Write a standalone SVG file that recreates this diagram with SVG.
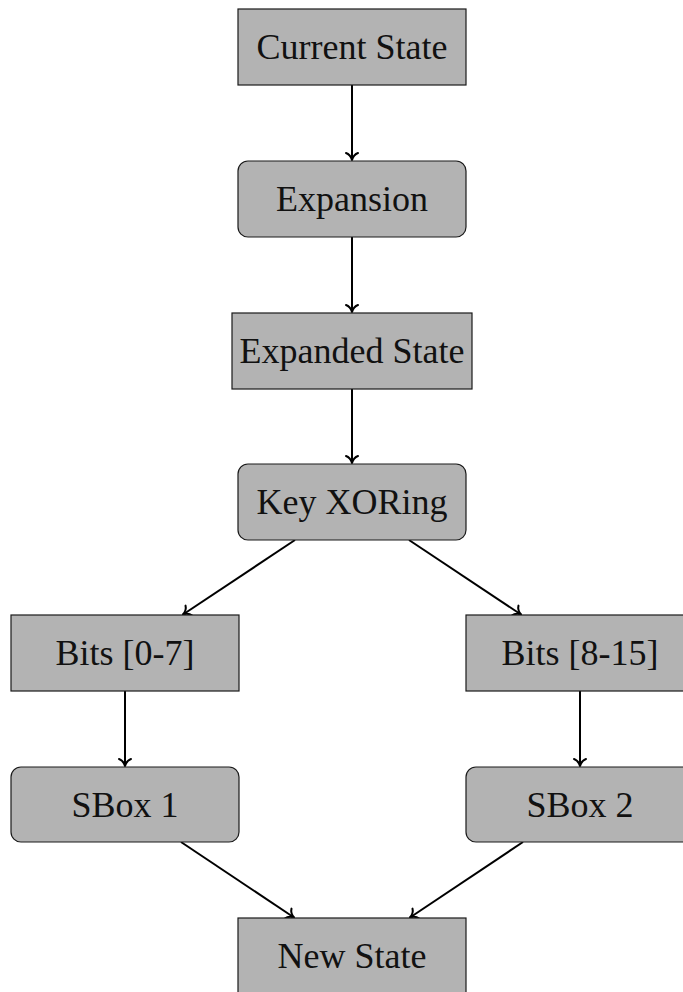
<svg xmlns="http://www.w3.org/2000/svg" width="683" height="992" viewBox="0 0 683 992">
  <style>
    .box { fill: #b3b3b3; stroke: #1a1a1a; stroke-width: 1.2; }
    .lbl { font-family: "Liberation Serif", "DejaVu Serif", serif; font-size: 36px; fill: #111; text-anchor: middle; }
    .edge { stroke: #000; stroke-width: 2; fill: none; marker-end: url(#tip); }
  </style>
  <defs>
    <marker id="tip" markerUnits="userSpaceOnUse" markerWidth="16" markerHeight="16" viewBox="-9 -8 11 16" refX="0" refY="0" orient="auto">
      <path d="M -7,-6 C -5.8,-2.4 -2,-0.6 0,0 C -2,0.6 -5.8,2.4 -7,6" fill="none" stroke="#000" stroke-width="2" stroke-linecap="round" stroke-linejoin="round"/>
    </marker>
  </defs>

  <g id="connectors">
    <line class="edge" x1="352" y1="85" x2="352" y2="160"/>
    <line class="edge" x1="352" y1="237" x2="352" y2="312"/>
    <line class="edge" x1="352" y1="389" x2="352" y2="463"/>
    <line class="edge" x1="295" y1="540" x2="183" y2="614.5"/>
    <line class="edge" x1="409" y1="540" x2="521" y2="614.5"/>
    <line class="edge" x1="125" y1="691" x2="125" y2="766"/>
    <line class="edge" x1="580" y1="691" x2="580" y2="766"/>
    <line class="edge" x1="181" y1="842" x2="294" y2="917.5"/>
    <line class="edge" x1="523" y1="842" x2="410" y2="917.5"/>
  </g>

  <g id="current-state">
    <rect class="box" x="238" y="9" width="228" height="76"/>
    <text class="lbl" x="352" y="59">Current State</text>
  </g>
  <g id="expansion">
    <rect class="box" x="238" y="161" width="228" height="76" rx="10"/>
    <text class="lbl" x="352" y="211">Expansion</text>
  </g>
  <g id="expanded-state">
    <rect class="box" x="232" y="313" width="240" height="76"/>
    <text class="lbl" x="352" y="363">Expanded State</text>
  </g>
  <g id="key-xoring">
    <rect class="box" x="238" y="464" width="228" height="76" rx="10"/>
    <text class="lbl" x="352" y="514">Key XORing</text>
  </g>
  <g id="bits-0-7">
    <rect class="box" x="11" y="615" width="228" height="76"/>
    <text class="lbl" x="125" y="665">Bits [0-7]</text>
  </g>
  <g id="bits-8-15">
    <rect class="box" x="466" y="615" width="228" height="76"/>
    <text class="lbl" x="580" y="665">Bits [8-15]</text>
  </g>
  <g id="sbox-1">
    <rect class="box" x="11" y="767" width="228" height="75" rx="10"/>
    <text class="lbl" x="125" y="817">SBox 1</text>
  </g>
  <g id="sbox-2">
    <rect class="box" x="466" y="767" width="228" height="75" rx="10"/>
    <text class="lbl" x="580" y="817">SBox 2</text>
  </g>
  <g id="new-state">
    <rect class="box" x="238" y="918" width="228" height="76"/>
    <text class="lbl" x="352" y="968">New State</text>
  </g>
</svg>
